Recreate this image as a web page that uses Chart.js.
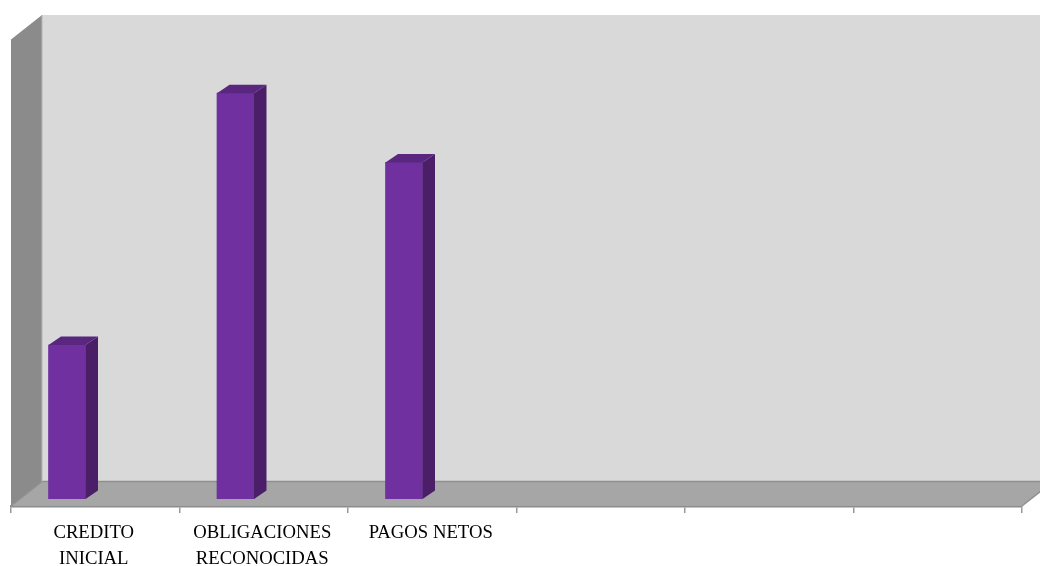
<!DOCTYPE html>
<html>
<head>
<meta charset="utf-8">
<style>
html, body { margin: 0; padding: 0; background: #fff; }
#wrap { width: 1040px; height: 566px; }
</style>
<script src="https://cdn.jsdelivr.net/npm/chart.js@4"></script>
</head>
<body>
<div id="wrap"><canvas id="chart" width="1040" height="566"></canvas></div>
<script>
// values are estimated from bar heights, the picture has no value axis
const categories = [['CREDITO', 'INICIAL'], ['OBLIGACIONES', 'RECONOCIDAS'], 'PAGOS NETOS', '', '', ''];
const serie1 = [2.31, 6.09, 5.05, null, null, null];
const serie2 = [null, null, null, null, null, null];
const serie3 = [null, null, null, null, null, null];
const valueMax = 7;

// offset of the box back wall and of the bars inside the box
const wallDepth = { x: 31, y: -24.5 };
const barShift = { x: 8.75, y: -7 };
const barDepth = { x: 12.5, y: -8.5 };

function poly(ctx, pts, fill) {
    ctx.beginPath();
    ctx.moveTo(pts[0][0], pts[0][1]);
    for (let i = 1; i < pts.length; i++) ctx.lineTo(pts[i][0], pts[i][1]);
    ctx.closePath();
    ctx.fillStyle = fill;
    ctx.fill();
}

/**
 * Draws the walls and floor behind the bars, and the bar depth faces.
 */
const box3d = {
    id: 'box3d',
    beforeDatasetsDraw(chart) {
        const ctx = chart.ctx;
        const a = chart.chartArea;
        const dx = wallDepth.x, dy = wallDepth.y;
        ctx.save();
        poly(ctx, [[a.left + dx, a.top + dy], [a.right + dx, a.top + dy], [a.right + dx, a.bottom + dy], [a.left + dx, a.bottom + dy]], '#d9d9d9');
        poly(ctx, [[a.left, a.top], [a.left + dx, a.top + dy], [a.left + dx, a.bottom + dy], [a.left, a.bottom]], '#8b8b8b');
        poly(ctx, [[a.left, a.bottom], [a.right, a.bottom], [a.right + dx, a.bottom + dy], [a.left + dx, a.bottom + dy]], '#a6a6a6');
        ctx.strokeStyle = '#909090';
        ctx.lineWidth = 1.5;
        ctx.beginPath();
        ctx.moveTo(a.left + dx, a.bottom + dy);
        ctx.lineTo(a.right + dx, a.bottom + dy);
        ctx.moveTo(a.left, a.bottom);
        ctx.lineTo(a.left + dx, a.bottom + dy);
        ctx.moveTo(a.right, a.bottom);
        ctx.lineTo(a.right + dx, a.bottom + dy);
        ctx.stroke();
        ctx.strokeStyle = '#b4b4b4';
        ctx.lineWidth = 1;
        ctx.beginPath();
        ctx.moveTo(a.left + dx, a.top + dy);
        ctx.lineTo(a.left + dx, a.bottom + dy);
        ctx.stroke();
        ctx.restore();
        // bars stand inside the box, so move them off the front plane
        ctx.save();
        ctx.translate(barShift.x, barShift.y);
    },
    afterDatasetsDraw(chart) {
        const ctx = chart.ctx;
        const dx = barDepth.x, dy = barDepth.y;
        chart.getDatasetMeta(0).data.forEach(function(bar, i) {
            if (serie1[i] === null) return;
            const p = bar.getProps(['x', 'y', 'base', 'width'], true);
            const l = p.x - p.width / 2, r = p.x + p.width / 2;
            poly(ctx, [[r, p.y], [r + dx, p.y + dy], [r + dx, p.base + dy], [r, p.base]], '#4a1f68');
            poly(ctx, [[l, p.y], [l + dx, p.y + dy], [r + dx, p.y + dy], [r, p.y]], '#592680');
        });
        ctx.restore();
    }
};

new Chart(document.getElementById('chart').getContext('2d'), {
    type: 'bar',
    plugins: [box3d],
    data: {
        labels: categories,
        datasets: [
            { label: 'Serie1', data: serie1, backgroundColor: '#7030a0', barThickness: 37 },
            { label: 'Serie2', data: serie2, backgroundColor: '#7030a0', barThickness: 37 },
            { label: 'Serie3', data: serie3, backgroundColor: '#7030a0', barThickness: 37 }
        ]
    },
    options: {
        responsive: false,
        animation: false,
        layout: { padding: { left: 11, right: 18, top: 39.5, bottom: 0 } },
        plugins: { legend: { display: false }, tooltip: { enabled: false } },
        scales: {
            x: {
                afterFit: function(scale) { scale.height = 60; },
                border: { color: '#8c8c8c', width: 2.5 },
                grid: { drawOnChartArea: false, color: '#999999', lineWidth: 1.5, tickLength: 7, offset: true },
                ticks: { color: '#000', maxRotation: 0, autoSkip: false, padding: 7, labelOffset: -1.5, font: { family: '"Liberation Serif"', size: 18.7, lineHeight: 1.39 } }
            },
            y: { display: false, min: 0, max: valueMax }
        }
    }
});
</script>
</body>
</html>
